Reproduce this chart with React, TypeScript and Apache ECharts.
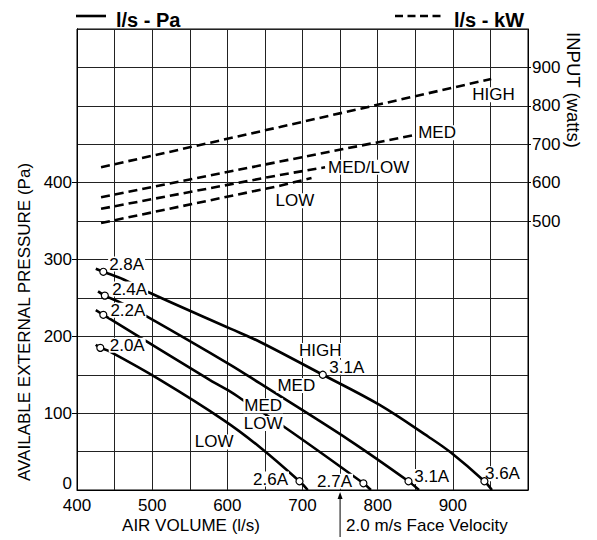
import React, { useEffect, useRef } from "react";
import * as echarts from "echarts";

const FONT = '"Liberation Sans", Arial, Helvetica, sans-serif';

// Axis ticks
const xLabelValues = [400, 500, 600, 700, 800, 900];
const paLabelValues = [0, 100, 200, 300, 400];
const wattLabelValues = [500, 600, 700, 800, 900];

// Solid curves: air volume (l/s) vs available external pressure (Pa)
const paHigh = [[425, 288], [435, 284], [462, 274], [496, 257], [604, 210], [643, 193], [727, 150], [802, 111], [868, 69], [897, 49], [942, 11.4], [952, 0]];
const paMed = [[428, 258.5], [437, 253], [460, 243], [491, 227], [604, 163], [643, 139], [762, 65], [841, 11.4], [855, 0]];
const paMedLow = [[425, 234], [435, 228], [445, 222], [577, 143], [604, 128], [621, 117], [673, 84], [781, 8.7], [791, 0]];
const paLow = [[425, 189], [431, 185], [442, 181], [511, 143], [595, 91], [643, 56], [696, 11.4], [707, 0]];

// Dashed curves: air volume (l/s) vs input (watts)
const kwHigh = [[432, 640], [670, 745], [951, 870]];
const kwMed = [[432, 562], [670, 655], [849, 724]];
const kwMedLow = [[432, 532], [670, 620], [730, 640]];
const kwLow = [[432, 495], [670, 592], [712, 612]];

// Operating points (open circles)
const ampPoints = [[435, 284], [437, 253], [435, 228], [431, 185], [727, 150], [696, 11.4], [781, 8.7], [841, 11.4], [942, 11.4]];

// Annotation anchors (label centres, in data units)
const paLabels = [
  { text: "2.8A", at: [466, 294] },
  { text: "2.4A", at: [470, 261.5] },
  { text: "2.2A", at: [467.7, 234] },
  { text: "2.0A", at: [466.8, 188.5] },
  { text: "HIGH", at: [723.6, 181.5] },
  { text: "3.1A", at: [759, 159.7] },
  { text: "MED", at: [691.8, 136] },
  { text: "MED", at: [647.7, 109.7] },
  { text: "LOW", at: [647.7, 86.6] },
  { text: "LOW", at: [582.4, 62.6] },
  { text: "2.6A", at: [657.4, 14.2] },
  { text: "2.7A", at: [742.6, 11.4] },
  { text: "3.1A", at: [871.9, 17.5] },
  { text: "3.6A", at: [966, 21] },
];
const kwLabels = [
  { text: "HIGH", at: [954, 829] },
  { text: "MED", at: [879, 730] },
  { text: "MED/LOW", at: [788, 640] },
  { text: "LOW", at: [690, 553] },
];

const FACE_VELOCITY = 750;

export default function App() {
  const ref = useRef<HTMLDivElement>(null);
  useEffect(() => {
    if (!ref.current) return;
    const chart = echarts.init(ref.current, null, { renderer: "svg" });
    const axisLine = { show: true, lineStyle: { color: "#000", width: 1 } };
    const labelStyle = { color: "#000", fontSize: 17, fontFamily: FONT };
    const solid = (data: number[][]) => ({
      type: "line",
      data,
      xAxisIndex: 0,
      yAxisIndex: 0,
      symbol: "none",
      smooth: 0.35,
      lineStyle: { color: "#000", width: 2.6 },
      z: 2,
      silent: true,
    });
    const dashed = (data: number[][]) => ({
      type: "line",
      data,
      xAxisIndex: 0,
      yAxisIndex: 1,
      symbol: "none",
      lineStyle: { color: "#000", width: 2.6, type: [9, 5] },
      z: 2,
      silent: true,
    });
    const labelSeries = (items: { text: string; at: number[] }[], yAxisIndex: number) => ({
      type: "scatter",
      xAxisIndex: 0,
      yAxisIndex,
      symbolSize: 1,
      itemStyle: { color: "transparent", opacity: 1 },
      z: 3,
      silent: true,
      data: items.map((d) => ({ value: d.at, name: d.text })),
      label: {
        show: true,
        position: "inside",
        formatter: (p: any) => p.name,
        ...labelStyle,
        opacity: 1,
        textBorderWidth: 0,
        lineHeight: 15,
        backgroundColor: "#fff",
        padding: [0, 1],
      },
    });
    chart.setOption({
      animation: false,
      grid: { left: 77, top: 29, width: 451, height: 461, show: true, borderColor: "#000", borderWidth: 1, backgroundColor: "transparent" },
      xAxis: {
        type: "value",
        min: 400,
        max: 1000,
        interval: 50,
        axisLine,
        axisTick: { show: false },
        splitLine: { show: true, lineStyle: { color: "#222", width: 1 } },
        axisLabel: {
          ...labelStyle,
          margin: 7,
          formatter: (v: number) => (xLabelValues.includes(v) ? String(v) : ""),
        },
      },
      yAxis: [
        {
          type: "value",
          min: 0,
          max: 600,
          interval: 50,
          position: "left",
          axisLine,
          axisTick: { show: false },
          axisLabel: { show: false },
          splitLine: { show: true, lineStyle: { color: "#222", width: 1 } },
        },
        {
          type: "value",
          min: -200,
          max: 1000,
          interval: 100,
          position: "right",
          axisLine,
          axisTick: { show: true, length: 3, customValues: wattLabelValues, lineStyle: { color: "#000" } },
          axisLabel: {
            ...labelStyle,
            margin: 4,
            customValues: wattLabelValues,
            formatter: (v: number) => (wattLabelValues.includes(v) ? String(v) : ""),
          },
          splitLine: { show: false },
        },
        {
          type: "value",
          min: 0,
          max: 600,
          interval: 100,
          position: "left",
          axisLine,
          axisTick: { show: true, length: 5, customValues: paLabelValues.filter((v) => v > 0), lineStyle: { color: "#000" } },
          axisLabel: {
            ...labelStyle,
            margin: 5,
            customValues: paLabelValues,
            formatter: (v: number) => (v === 0 ? "{zero|0}" : paLabelValues.includes(v) ? String(v) : ""),
            rich: { zero: { ...labelStyle, padding: [0, 0, 13, 0] } },
          },
          splitLine: { show: false },
        },
      ],
      series: [
        solid(paHigh),
        solid(paMed),
        solid(paMedLow),
        solid(paLow),
        dashed(kwHigh),
        dashed(kwMed),
        dashed(kwMedLow),
        dashed(kwLow),
        labelSeries(paLabels, 0),
        labelSeries(kwLabels, 1),
        {
          type: "scatter",
          xAxisIndex: 0,
          yAxisIndex: 0,
          data: ampPoints,
          symbol: "circle",
          symbolSize: 7,
          itemStyle: { color: "#fff", borderColor: "#000", borderWidth: 1.2, opacity: 1 },
          z: 4,
          silent: true,
        },
      ],
    });

    const ax = chart.convertToPixel({ xAxisIndex: 0 }, FACE_VELOCITY) as number;
    const legendY = 16;
    chart.setOption({
      graphic: [
        { type: "line", shape: { x1: 76, y1: legendY, x2: 106, y2: legendY }, style: { stroke: "#000", lineWidth: 2.6 } },
        { type: "text", x: 116, y: 20, style: { text: "l/s - Pa", font: `bold 20px ${FONT}`, fill: "#000", verticalAlign: "middle" } },
        { type: "line", shape: { x1: 395, y1: legendY, x2: 441, y2: legendY }, style: { stroke: "#000", lineWidth: 2.6, lineDash: [8, 4.5] } },
        { type: "text", x: 454, y: 20, style: { text: "l/s - kW", font: `bold 20px ${FONT}`, fill: "#000", verticalAlign: "middle" } },
        {
          type: "text",
          x: 24,
          y: 322,
          rotation: Math.PI / 2,
          style: { text: "AVAILABLE EXTERNAL PRESSURE (Pa)", font: `17px ${FONT}`, fill: "#000", align: "center", verticalAlign: "middle" },
        },
        {
          type: "text",
          x: 573,
          y: 90,
          rotation: -Math.PI / 2,
          style: { text: "INPUT (watts)", font: `18.5px ${FONT}`, fill: "#000", align: "center", verticalAlign: "middle" },
        },
        { type: "text", x: 191, y: 525, style: { text: "AIR VOLUME (l/s)", font: `17px ${FONT}`, fill: "#000", align: "center", verticalAlign: "middle" } },
        { type: "line", shape: { x1: ax, y1: 537, x2: ax, y2: 496 }, style: { stroke: "#000", lineWidth: 1 } },
        { type: "polygon", shape: { points: [[ax, 492], [ax - 2.5, 499], [ax + 2.5, 499]] }, style: { fill: "#000" } },
        { type: "text", x: ax + 6, y: 525, style: { text: "2.0 m/s Face Velocity", font: `17px ${FONT}`, fill: "#000", align: "left", verticalAlign: "middle" } },
      ],
    });
    return () => chart.dispose();
  }, []);
  return <div ref={ref} style={{ position: "absolute", left: 0, top: 0, width: 597, height: 540 }} />;
}
